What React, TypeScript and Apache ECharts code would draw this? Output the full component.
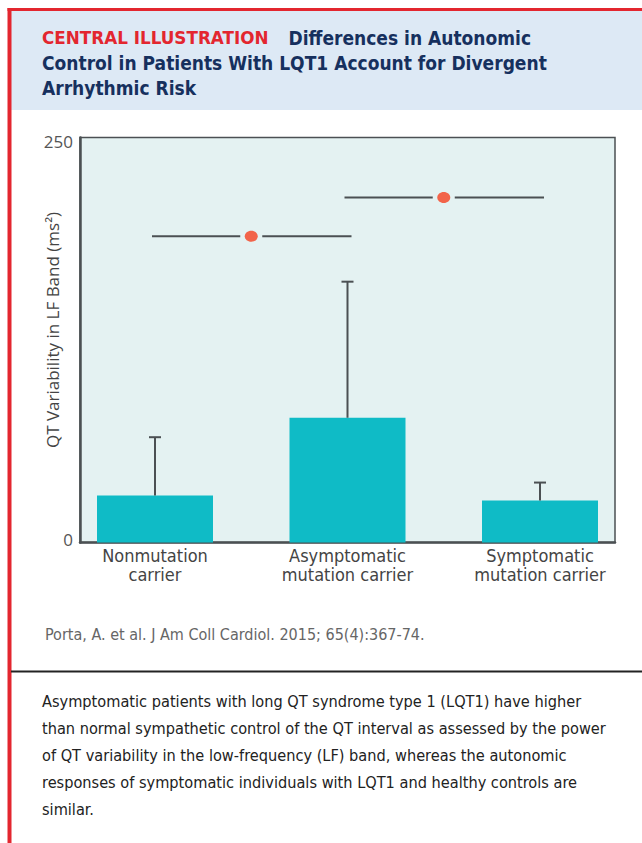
import React, { useEffect, useRef } from "react";
import * as echarts from "echarts";

// Groups on the x axis
const categories = [
  "Nonmutation\ncarrier",
  "Asymptomatic\nmutation carrier",
  "Symptomatic\nmutation carrier",
];
// Mean LF-band QT variability (ms²)
const meanValues = [29, 77, 26];
// Upper end of each error bar (ms²)
const upperValues = [65, 161, 37];
// Y axis range / ticks
const yTicks = [0, 250];
// Significance brackets: [from group, to group, height]
const brackets = [
  [0, 1, 189],
  [1, 2, 213],
];

const titleLines = [
  "Differences in Autonomic",
  "Control in Patients With LQT1 Account for Divergent",
  "Arrhythmic Risk",
];
const citation = "Porta, A. et al. J Am Coll Cardiol. 2015; 65(4):367-74.";
const bodyLines = [
  "Asymptomatic patients with long QT syndrome type 1 (LQT1) have higher",
  "than normal sympathetic control of the QT interval as assessed by the power",
  "of QT variability in the low-frequency (LF) band, whereas the autonomic",
  "responses of symptomatic individuals with LQT1 and healthy controls are",
  "similar.",
];

const NARROW = '"DejaVu Sans Condensed", "Open Sans", sans-serif';
const OPEN = '"Open Sans", "Noto Sans", sans-serif';
const AXIS_DARK = "#4b5053";

export default function App() {
  const ref = useRef<HTMLDivElement>(null);

  useEffect(() => {
    document.body.style.margin = "0";
    if (!ref.current) return;
    const chart = echarts.init(ref.current, undefined, { renderer: "svg" });

    const plotTop = 137.5;
    const plotHeight = 405;
    const tickFont = { color: "#555", fontFamily: OPEN, fontSize: 17 };

    const option: any = {
      animation: false,
      backgroundColor: "#ffffff",
      grid: [
        {
          left: 80,
          top: plotTop,
          width: 535,
          height: plotHeight,
          show: true,
          backgroundColor: "#e4f2f2",
          borderColor: AXIS_DARK,
          borderWidth: 1.5,
        },
        { left: 58.75, top: plotTop, width: 577.5, height: plotHeight },
      ],
      xAxis: [
        {
          gridIndex: 0,
          type: "value",
          min: 0,
          max: 1,
          axisLine: { show: true, onZero: false, lineStyle: { color: AXIS_DARK, width: 2.5 } },
          axisTick: { show: false },
          axisLabel: { show: false },
          splitLine: { show: false },
        },
        {
          gridIndex: 1,
          type: "category",
          data: categories,
          axisLine: { show: false },
          axisTick: { show: false },
          axisLabel: {
            margin: 3,
            color: "#444",
            fontFamily: NARROW,
            fontSize: 18,
            lineHeight: 19,
            interval: 0,
          },
        },
      ],
      yAxis: [
        {
          gridIndex: 0,
          type: "value",
          min: yTicks[0],
          max: yTicks[yTicks.length - 1],
          interval: yTicks[1] - yTicks[0],
          name: "QT Variability in LF Band (ms²)",
          nameLocation: "middle",
          nameGap: 19,
          nameMoveOverlap: false,
          nameTextStyle: {
            color: "#444",
            fontFamily: OPEN,
            fontSize: 17,
            padding: [0, 0, 0, 20],
          },
          axisLine: { show: true, lineStyle: { color: AXIS_DARK, width: 2.5 } },
          axisTick: { show: false },
          splitLine: { show: false },
          axisLabel: {
            ...tickFont,
            margin: 7,
            // nudge the end labels slightly inside the frame
            formatter: (v: number) =>
              v === yTicks[yTicks.length - 1] ? `{hi|${v}}` : `{lo|${v}}`,
            rich: {
              hi: { ...tickFont, padding: [7, 0, 0, 0] },
              lo: { ...tickFont, padding: [0, 0, 6, 0] },
            },
          },
        },
        {
          gridIndex: 1,
          type: "value",
          min: yTicks[0],
          max: yTicks[yTicks.length - 1],
          show: false,
        },
      ],
      series: [
        {
          type: "bar",
          xAxisIndex: 1,
          yAxisIndex: 1,
          data: meanValues,
          barWidth: 116,
          itemStyle: { color: "#0fbbc6" },
          z: 2,
        },
        {
          type: "custom",
          xAxisIndex: 1,
          yAxisIndex: 1,
          data: meanValues.map((m, i) => [i, m, upperValues[i]]),
          z: 3,
          renderItem: (params: any, api: any) => {
            const i = api.value(0);
            const base = api.coord([i, api.value(1)]);
            const top = api.coord([i, api.value(2)]);
            const style = { stroke: AXIS_DARK, lineWidth: 2 };
            return {
              type: "group",
              children: [
                { type: "line", shape: { x1: base[0], y1: base[1], x2: top[0], y2: top[1] }, style },
                { type: "line", shape: { x1: top[0] - 6, y1: top[1], x2: top[0] + 6, y2: top[1] }, style },
              ],
            };
          },
        },
        {
          type: "custom",
          xAxisIndex: 1,
          yAxisIndex: 1,
          data: brackets,
          z: 3,
          renderItem: (params: any, api: any) => {
            const a = api.coord([api.value(0), api.value(2)]);
            const b = api.coord([api.value(1), api.value(2)]);
            const mid = (a[0] + b[0]) / 2;
            const style = { stroke: AXIS_DARK, lineWidth: 2 };
            return {
              type: "group",
              children: [
                { type: "line", shape: { x1: a[0] - 3, y1: a[1], x2: mid - 11, y2: a[1] }, style },
                { type: "line", shape: { x1: mid + 11, y1: a[1], x2: b[0] + 4, y2: a[1] }, style },
                { type: "ellipse", shape: { cx: mid, cy: a[1], rx: 6.5, ry: 5.5 }, style: { fill: "#f2644a" } },
              ],
            };
          },
        },
      ],
      graphic: [
        // header band and red frame
        { type: "rect", shape: { x: 11, y: 11, width: 631, height: 99 }, style: { fill: "#dde9f5" }, silent: true },
        { type: "rect", shape: { x: 7.5, y: 8, width: 634.5, height: 3 }, style: { fill: "#e3262f" }, silent: true },
        { type: "rect", shape: { x: 7.5, y: 8, width: 4, height: 835 }, style: { fill: "#e3262f" }, silent: true },
        {
          type: "text",
          x: 42,
          y: 25,
          style: {
            text:
              "{r|CENTRAL ILLUSTRATION}{g| }{b|" +
              titleLines[0] +
              "}\n{b|" +
              titleLines[1] +
              "}\n{b|" +
              titleLines[2] +
              "}",
            rich: {
              r: {
                fill: "#e3262f",
                fontFamily: '"DejaVu Sans", sans-serif',
                fontWeight: "bold",
                fontSize: 16.8,
                lineHeight: 25,
              },
              g: { fontSize: 15, lineHeight: 25, width: 20 },
              b: {
                fill: "#16305e",
                fontFamily: NARROW,
                fontWeight: "bold",
                fontSize: 19,
                lineHeight: 25,
              },
            },
          },
        },
        {
          type: "text",
          x: 45,
          y: 634,
          style: {
            text: citation,
            fill: "#666",
            fontFamily: NARROW,
            fontSize: 16,
            verticalAlign: "middle",
          },
        },
        {
          type: "line",
          shape: { x1: 11, y1: 671.5, x2: 642, y2: 671.5 },
          style: { stroke: "#222", lineWidth: 2 },
        },
        {
          type: "text",
          x: 42,
          y: 688,
          style: {
            text: bodyLines.join("\n"),
            fill: "#222",
            fontFamily: NARROW,
            fontSize: 16.2,
            lineHeight: 27,
          },
        },
      ],
    };

    chart.setOption(option);
    return () => chart.dispose();
  }, []);

  return <div ref={ref} style={{ width: 642, height: 843 }} />;
}
